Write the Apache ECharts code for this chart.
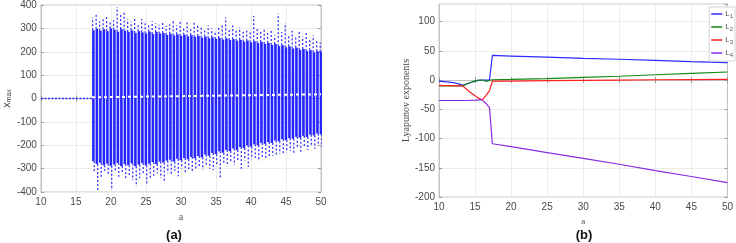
<!DOCTYPE html>
<html>
<head>
<meta charset="utf-8">
<script src="https://cdn.jsdelivr.net/npm/echarts@6/dist/echarts.min.js"></script>
<style>
  html, body { margin: 0; padding: 0; background: #fff; }
  #main { width: 736px; height: 243px; }
</style>
</head>
<body>
<div id="main"></div>
<script>
// (a) bifurcation diagram, one column every 0.5 of a
var colStep = 0.5;
var aCols = [17.5, 18, 18.5, 19, 19.5, 20, 20.5, 21, 21.5, 22,
  22.5, 23, 23.5, 24, 24.5, 25, 25.5, 26, 26.5, 27,
  27.5, 28, 28.5, 29, 29.5, 30, 30.5, 31, 31.5, 32,
  32.5, 33, 33.5, 34, 34.5, 35, 35.5, 36, 36.5, 37,
  37.5, 38, 38.5, 39, 39.5, 40, 40.5, 41, 41.5, 42,
  42.5, 43, 43.5, 44, 44.5, 45, 45.5, 46, 46.5, 47,
  47.5, 48, 48.5, 49, 49.5, 50];
var denseTop = [292, 298, 290, 296, 288, 300, 294, 286, 297, 290,
  285, 292, 280, 288, 283, 279, 287, 276, 284, 278,
  280, 272, 277, 270, 275, 268, 273, 266, 271, 264,
  268, 260, 265, 258, 262, 255, 259, 252, 257, 250,
  254, 247, 251, 243, 248, 240, 245, 237, 242, 234,
  238, 229, 233, 224, 228, 219, 223, 214, 218, 208,
  212, 203, 207, 198, 202, 200];
var denseBot = [-268, -280, -275, -286, -279, -288, -282, -276, -289, -281,
  -285, -278, -290, -283, -276, -286, -279, -272, -281, -270,
  -274, -266, -262, -270, -258, -264, -255, -260, -250, -256,
  -246, -252, -240, -245, -233, -238, -226, -232, -220, -225,
  -214, -220, -208, -212, -201, -206, -196, -200, -190, -194,
  -186, -190, -180, -183, -174, -178, -170, -172, -164, -168,
  -160, -165, -155, -158, -150, -153];
var peakTop = [345, 358, 330, 340, 352, 325, 335, 390, 360, 374,
  338, 328, 345, 320, 340, 332, 318, 330, 322, 315,
  323, 310, 318, 336, 312, 330, 305, 325, 300, 332,
  318, 305, 296, 312, 300, 290, 310, 320, 346, 300,
  312, 295, 305, 288, 300, 292, 353, 300, 285, 296,
  280, 295, 270, 363, 285, 323, 275, 290, 270, 289,
  265, 289, 260, 270, 250, 240];
var peakBot = [-320, -391, -340, -310, -330, -391, -315, -335, -320, -345,
  -330, -350, -377, -340, -325, -370, -345, -330, -320, -340,
  -356, -320, -330, -310, -333, -300, -320, -306, -315, -300,
  -295, -306, -290, -300, -306, -285, -342, -280, -290, -275,
  -285, -270, -300, -265, -293, -260, -255, -270, -250, -258,
  -250, -245, -240, -236, -235, -230, -225, -232, -215, -230,
  -210, -220, -205, -215, -200, -207];
var fixedPoint = [[10, 0], [17.3, 0]];
var gapBand = [[17.3, 5], [50, 18]];

// (b) Lyapunov exponents
var lyA = [10, 11, 12, 13, 13.3, 14, 15, 15.5, 16, 16.6, 17, 17.25, 17.4, 20, 25, 30, 35, 40, 45, 50];
var L1 = [-2, -3, -4.5, -7.5, -9, -6, -2, -0.5, 0, 0, 0, 0, 42, 41, 39, 37, 35.5, 33.5, 31.5, 29.7];
var L2 = [-10, -10, -10, -10, -10, -6, -1.5, 0, 0, -2.5, -0.5, 0.5, 0.5, 1, 2.5, 4.5, 6.5, 9, 11.5, 13.7];
var L3 = [-9, -9.5, -9.5, -10, -10, -18, -27, -31, -34, -25, -18, -16, -2, -2, -1, -0.5, 0, 0.5, 0.8, 1];
var L4 = [-35, -35, -35, -35, -35, -35, -34.5, -34, -34, -41, -47, -50, -109, -114, -124, -134, -144, -155, -165, -175.5];
var lyNames = ['L1', 'L2', 'L3', 'L4'];
var lyColors = ['#2b2bff', '#138a13', '#ff2020', '#8a2be2'];

var blue = '#2424ff';
var boxColor = '#c4c4c4';
var labelColor = '#4a4a4a';

function pairs(xs, ys) {
  var out = [];
  for (var i = 0; i < xs.length; i++) out.push([xs[i], ys[i]]);
  return out;
}

var colData = [];
for (var i = 0; i < aCols.length; i++) {
  colData.push([aCols[i], denseBot[i], denseTop[i], peakBot[i], peakTop[i]]);
}

function renderCol(params, api) {
  var a = api.value(0);
  var pBot = api.coord([a, api.value(1)]);
  var pTop = api.coord([a, api.value(2)]);
  var qBot = api.coord([a, api.value(3)]);
  var qTop = api.coord([a, api.value(4)]);
  var w = api.size([colStep, 0])[0];
  var x0 = pTop[0] - w / 2;
  var dash = { stroke: blue, lineWidth: 1.2, lineDash: [2, 2] };
  return {
    type: 'group',
    children: [
      { type: 'rect', shape: { x: x0 + 0.4, y: pTop[1], width: w - 0.9, height: pBot[1] - pTop[1] }, style: { fill: blue } },
      { type: 'line', shape: { x1: pTop[0] - 0.8, y1: pTop[1], x2: pTop[0] - 0.8, y2: qTop[1] }, style: dash },
      { type: 'line', shape: { x1: pBot[0] + 0.8, y1: pBot[1], x2: pBot[0] + 0.8, y2: qBot[1] }, style: dash }
    ]
  };
}

function xAx(grid, pos, show) {
  return {
    type: 'value', gridIndex: grid, position: pos, min: 10, max: 50, interval: 5,
    axisLine: { show: true, lineStyle: { color: boxColor } },
    axisTick: { show: true, inside: true, length: 3, lineStyle: { color: '#9a9a9a' } },
    axisLabel: { show: show, color: labelColor, fontSize: 10, margin: 5, fontFamily: 'Liberation Sans' },
    splitLine: { show: show, lineStyle: { color: '#ebebeb' } }
  };
}
function yAx(grid, pos, show, min, max, step) {
  return {
    type: 'value', gridIndex: grid, position: pos, min: min, max: max, interval: step,
    axisLine: { show: true, lineStyle: { color: boxColor } },
    axisTick: { show: true, inside: true, length: 3, lineStyle: { color: '#9a9a9a' } },
    axisLabel: { show: show, color: labelColor, fontSize: 10, margin: 4, fontFamily: 'Liberation Sans', showMaxLabel: max % step === 0 },
    splitLine: { show: show, lineStyle: { color: '#ebebeb' } }
  };
}

var xA = xAx(0, 'bottom', true);
xA.name = 'a';
xA.nameLocation = 'middle';
xA.nameGap = 20;
xA.nameTextStyle = { fontFamily: 'Liberation Serif', fontSize: 10, color: '#555' };
var yA = yAx(0, 'left', true, -400, 400, 100);
yA.name = 'x{s|max}';
yA.nameLocation = 'middle';
yA.nameGap = 19;
yA.nameTextStyle = { fontFamily: 'Liberation Sans', fontSize: 11, color: '#444', rich: { s: { fontSize: 7, color: '#444', padding: [6, 0, 0, 0] } } };

var xB = xAx(1, 'bottom', true);
xB.name = 'a';
xB.nameLocation = 'middle';
xB.nameGap = 13;
xB.nameTextStyle = { fontFamily: 'Liberation Serif', fontSize: 9, color: '#555' };
var yB = yAx(1, 'left', true, -200, 130, 50);
yB.name = 'Lyapunov exponents';
yB.nameLocation = 'middle';
yB.nameGap = 18;
yB.nameTextStyle = { fontFamily: 'Liberation Serif', fontSize: 10, color: '#444' };

var series = [
  {
    type: 'custom', xAxisIndex: 0, yAxisIndex: 0, renderItem: renderCol,
    data: colData, clip: true, silent: true
  },
  {
    type: 'line', xAxisIndex: 0, yAxisIndex: 0, data: fixedPoint, symbol: 'none',
    lineStyle: { color: blue, width: 1.5, type: [2, 1.5] }
  },
  {
    type: 'line', xAxisIndex: 0, yAxisIndex: 0, data: gapBand, symbol: 'none', z: 5,
    lineStyle: { color: '#ffffff', width: 2, type: [3, 3] }
  }
];
var lys = [L1, L2, L3, L4];
for (var k = 0; k < lys.length; k++) {
  series.push({
    name: lyNames[k], type: 'line', xAxisIndex: 2, yAxisIndex: 2,
    data: pairs(lyA, lys[k]), symbol: 'none',
    lineStyle: { color: lyColors[k], width: 1.2 }, itemStyle: { color: lyColors[k] }
  });
}

var option = {
  animation: false,
  backgroundColor: '#fff',
  grid: [
    { left: 28, top: 4, width: 293, height: 188, show: true, borderColor: boxColor, borderWidth: 1 },
    { left: 439, top: 4, width: 294, height: 193, show: true, borderColor: boxColor, borderWidth: 1 }
  ],
  xAxis: [xA, xAx(0, 'top', false), xB, xAx(1, 'top', false)],
  yAxis: [yA, yAx(0, 'right', false, -400, 400, 100), yB, yAx(1, 'right', false, -200, 130, 50)],
  title: [
    { text: '(a)', left: 169, top: 224, textAlign: 'center', textStyle: { fontFamily: 'Liberation Sans', fontWeight: 'bold', fontSize: 13, color: '#111' } },
    { text: '(b)', left: 579, top: 224, textAlign: 'center', textStyle: { fontFamily: 'Liberation Sans', fontWeight: 'bold', fontSize: 13, color: '#111' } }
  ],
  legend: {
    data: lyNames, orient: 'vertical', right: 1, top: 7,
    icon: 'rect', itemWidth: 11, itemHeight: 1.5, itemGap: 4,
    padding: [3, 2, 3, 2],
    borderColor: '#d4d4d4', borderWidth: 1, backgroundColor: '#fff',
    formatter: function (n) { return 'L{s|' + n.slice(1) + '}'; },
    textStyle: { fontSize: 8, color: '#555', padding: [0, 0, 0, -2], rich: { s: { fontSize: 6, color: '#555', padding: [4, 0, 0, 0] } } }
  },
  series: series
};

var myChart = echarts.init(document.getElementById('main'));
myChart.setOption(option);
</script>
</body>
</html>
